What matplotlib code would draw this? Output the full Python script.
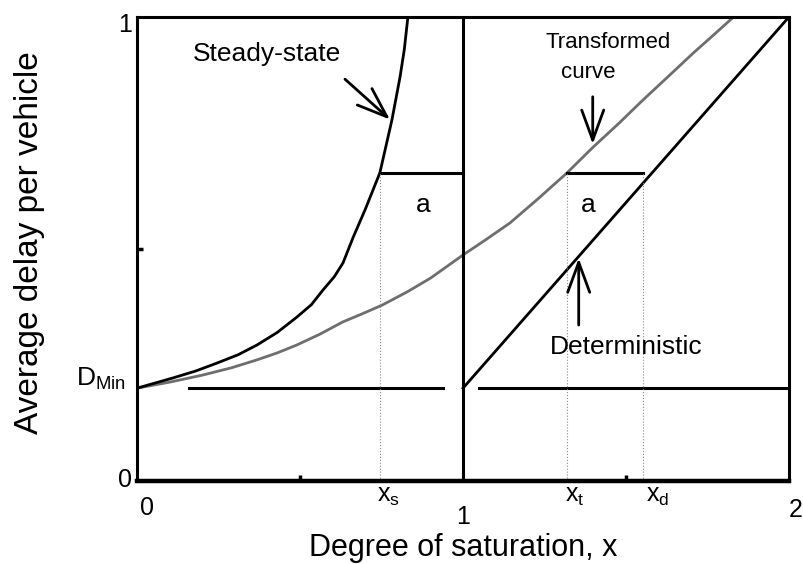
import matplotlib
matplotlib.use('Agg')
import matplotlib.pyplot as plt
import matplotlib.transforms as mtransforms

plt.rcParams['font.family'] = ['Liberation Sans', 'DejaVu Sans']

# Values
d_min = 0.2
a_level = 0.664
x_s, x_t, x_d = 0.745, 1.319, 1.552

steady_x = [0.0, 0.05, 0.11, 0.18, 0.245, 0.31, 0.368, 0.43, 0.49, 0.535, 0.571, 0.605,
            0.632, 0.663, 0.7, 0.745, 0.782, 0.807, 0.82, 0.831]
steady_y = [0.2, 0.21, 0.222, 0.237, 0.254, 0.272, 0.293, 0.32, 0.353, 0.38, 0.412, 0.44,
            0.47, 0.525, 0.585, 0.664, 0.778, 0.871, 0.93, 1.0]

trans_x = [0.0, 0.1, 0.2, 0.29, 0.368, 0.43, 0.49, 0.56, 0.632, 0.69, 0.752, 0.83, 0.9,
           0.95, 1.0, 1.07, 1.144, 1.23, 1.319, 1.4, 1.48, 1.552, 1.63, 1.706, 1.77, 1.83]
trans_y = [0.2, 0.213, 0.228, 0.244, 0.261, 0.276, 0.293, 0.316, 0.343, 0.36, 0.379, 0.408,
           0.437, 0.462, 0.487, 0.52, 0.556, 0.608, 0.664, 0.72, 0.772, 0.821, 0.872, 0.922,
           0.962, 1.0]

det_x = [1.0, 2.0]
det_y = [0.2, 1.0]

base_left = [0.16, 0.94]
base_right = [1.05, 1.995]
a_left = [x_s, 1.0]
a_right = [x_t, x_d]

fig = plt.figure(figsize=(8.04, 5.64), dpi=100)
ax = fig.add_axes([0.1704, 0.1472, 0.8109, 0.8227])

ax.plot(trans_x, trans_y, color='#6e6e6e', lw=2.0)
ax.plot(steady_x, steady_y, color='black', lw=2.0)
ax.plot(det_x, det_y, color='black', lw=2.0)

ax.plot(base_left, [d_min, d_min], color='black', lw=2.2)
ax.plot(base_right, [d_min, d_min], color='black', lw=2.2)
ax.plot(a_left, [a_level, a_level], color='black', lw=2.2)
ax.plot(a_right, [a_level, a_level], color='black', lw=2.2)
ax.axvline(1.0, color='black', lw=2.2)
ax.vlines([x_s, x_t, x_d], 0, a_level, color='#888888', lw=0.8, linestyles=':')

ax.set_xlim(0, 2)
ax.set_ylim(0, 1)
for side in ['left', 'top', 'right']:
    ax.spines[side].set_linewidth(2.2)
ax.spines['bottom'].set_linewidth(3.2)

ax.set_xticks([0.5, 1.5])
ax.set_yticks([0.5])
ax.set_xticklabels([])
ax.set_yticklabels([])
ax.tick_params(direction='in', length=4, width=2.5)

fs = 19
tx = mtransforms.blended_transform_factory(ax.transData, fig.transFigure)
ty = mtransforms.blended_transform_factory(fig.transFigure, ax.transData)
# x tick labels
for xv, lab, yv in [(0.03, '0', 0.099), (1.0, '1', 0.083), (2.02, '2', 0.096)]:
    fig.text(xv, yv, lab, transform=tx, ha='center', va='center', fontsize=18)
for xv, lab in [(x_s, '$\\mathregular{x_s}$'), (x_t, '$\\mathregular{x_t}$'), (x_d + 0.02, '$\\mathregular{x_d}$')]:
    fig.text(xv + 0.025, 0.12, lab, transform=tx, ha='center', va='center', fontsize=18)
# y tick labels
fig.text(0.156, 0.982, '1', transform=ty, ha='center', va='center', fontsize=18)
fig.text(0.156, 0.003, '0', transform=ty, ha='center', va='center', fontsize=18)
fig.text(0.126, d_min + 0.02, '$\\mathregular{D_{Min}}$', transform=ty, ha='center', va='center', fontsize=fs)

fig.text(0.576, 0.028, 'Degree of saturation, x', ha='center', va='center', fontsize=22)
fig.text(0.037, 0.57, 'Average delay per vehicle', rotation=90, ha='center', va='center', fontsize=24)

arrow = dict(arrowstyle='->, head_length=0.9, head_width=0.33', lw=2, color='black', mutation_scale=24,
             shrinkA=0, shrinkB=0)
ax.annotate('', xy=(0.776, 0.779), xytext=(0.638, 0.866), arrowprops=arrow)
ax.annotate('', xy=(1.398, 0.726), xytext=(1.398, 0.828), arrowprops=arrow)
ax.annotate('', xy=(1.355, 0.48), xytext=(1.355, 0.336), arrowprops=arrow)

ax.text(0.4, 0.92, 'Steady-state', ha='center', va='center', fontsize=fs)
ax.text(1.445, 0.945, 'Transformed', ha='center', va='center', fontsize=16)
ax.text(1.385, 0.88, 'curve', ha='center', va='center', fontsize=16)
ax.text(1.5, 0.289, 'Deterministic', ha='center', va='center', fontsize=fs)
ax.text(0.877, 0.595, 'a', ha='center', va='center', fontsize=fs)
ax.text(1.385, 0.595, 'a', ha='center', va='center', fontsize=fs)

fig.savefig('out.png', dpi=100)
